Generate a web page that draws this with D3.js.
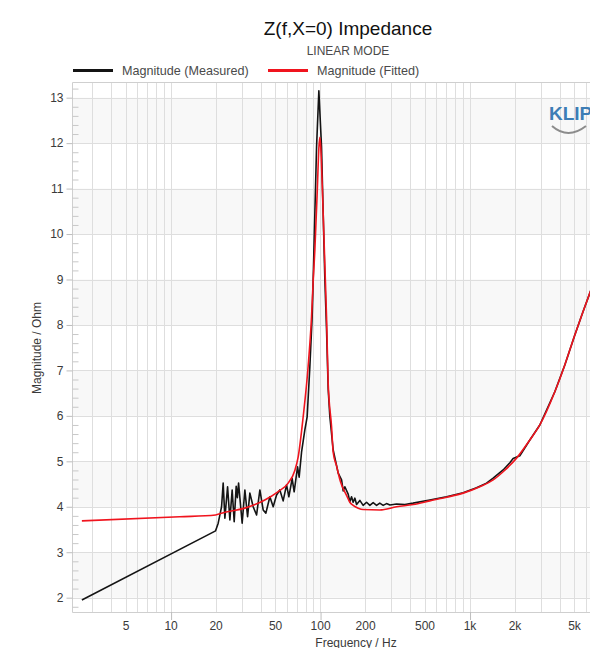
<!DOCTYPE html>
<html>
<head>
<meta charset="utf-8">
<script src="https://cdn.jsdelivr.net/npm/d3@7"></script>
<style>
  body { margin: 0; background: #fff; overflow: hidden; }
  svg { display: block; font-family: 'Liberation Sans', Arial, sans-serif; }
</style>
</head>
<body>
<svg id="chart"></svg>
<script>
// impedance curve
const measuredFreq = [2.55, 20, 20.82, 21.37, 21.93, 22.48, 23.08, 24.06, 24.93, 25.82, 26.64, 27.47, 27.98, 28.5, 30.12, 31.4, 32.74, 33.92, 35.69, 37.61, 39.57, 41.63, 43.4, 46.16, 48.57, 51.17, 53.83, 56.64, 59.68, 61.83, 65.06, 67.1, 70.7, 72.46, 75.19, 79.11, 81.97, 85.45, 88.54, 89.92, 92.31, 94.76, 98.17, 102.3, 104.9, 107.7, 110.5, 113.3, 116.3, 122.4, 132.2, 139.3, 142.8, 146.5, 154.2, 158.2, 162.4, 166.5, 171, 175.5, 184.6, 194.2, 204.7, 215.3, 226.6, 238.8, 251, 264.3, 278.5, 293.1, 325, 369.2, 419.5, 542.5, 702, 906, 1114, 1299, 1439, 1678, 1861, 1957, 2170, 2532, 2953, 3721, 4340, 5063, 5727, 6378, 7439]
const measuredMag = [1.95, 3.47, 3.64, 3.82, 4.0, 4.52, 3.75, 4.44, 3.71, 4.37, 3.67, 4.45, 4.2, 4.52, 3.64, 4.37, 3.78, 4.3, 4.0, 3.82, 4.37, 3.93, 3.86, 4.22, 4.0, 4.26, 4.37, 4.13, 4.48, 4.22, 4.62, 4.33, 4.88, 4.65, 5.2, 5.69, 5.98, 7.08, 8.18, 8.99, 10.46, 11.92, 13.15, 11.92, 10.46, 8.99, 7.9, 6.6, 5.98, 5.25, 4.74, 4.59, 4.35, 4.44, 4.28, 4.11, 4.22, 4.1, 4.19, 4.05, 4.14, 4.03, 4.1, 4.03, 4.09, 4.03, 4.08, 4.03, 4.07, 4.04, 4.06, 4.05, 4.08, 4.15, 4.22, 4.31, 4.42, 4.52, 4.63, 4.81, 4.97, 5.06, 5.12, 5.47, 5.8, 6.53, 7.12, 7.78, 8.28, 8.7, 9.3]

const fittedFreq = [2.55, 11.5, 20, 23.1, 31.4, 42.7, 52.2, 61.2, 67.8, 71.4, 77.1, 83.2, 87.7, 89.9, 92.3, 95.9, 98.2, 99.7, 101.1, 103.6, 107.7, 110.5, 113.3, 119.4, 122.4, 128.9, 137, 150.4, 158.2, 166.5, 180, 194.2, 251, 325, 420, 542, 702, 906, 1172, 1439, 1678, 2063, 2532, 2953, 3721, 4340, 5063, 5727, 6378, 7439]
const fittedMag = [3.69, 3.78, 3.82, 3.88, 3.97, 4.15, 4.33, 4.52, 4.8, 5.1, 5.98, 7.08, 8.18, 8.95, 9.65, 11.0, 11.9, 12.13, 11.9, 11.0, 9.3, 8.18, 6.72, 5.76, 5.2, 4.9, 4.55, 4.25, 4.1, 4.03, 3.97, 3.94, 3.93, 4.0, 4.05, 4.13, 4.21, 4.3, 4.44, 4.59, 4.77, 5.07, 5.47, 5.8, 6.53, 7.12, 7.78, 8.28, 8.7, 9.3]

const xLabelTicks = [5, 10, 20, 50, 100, 200, 500, 1000, 2000, 5000]
const xDecades = [10, 100, 1000, 10000]
const yTicks = [2, 3, 4, 5, 6, 7, 8, 9, 10, 11, 12, 13]

const width = 590
const height = 648
const plot = { left: 72, right: 664, top: 82, bottom: 612 }

const x = d3.scaleLog().domain([2.19, 20000]).range([plot.left, plot.right])
const y = d3.scaleLinear().domain([1.685, 13.345]).range([plot.bottom, plot.top])

const svg = d3.select('#chart')
  .attr('width', width)
  .attr('height', height)

svg.append('defs').append('clipPath')
  .attr('id', 'plot-clip')
  .append('rect')
  .attr('x', plot.left)
  .attr('y', plot.top)
  .attr('width', plot.right - plot.left)
  .attr('height', plot.bottom - plot.top)

// alternating bands
svg.append('g')
  .selectAll('rect')
  .data(yTicks.filter(v => v % 2 === 0))
  .enter().append('rect')
  .attr('x', plot.left)
  .attr('width', plot.right - plot.left)
  .attr('y', v => y(v + 1))
  .attr('height', v => y(v) - y(v + 1))
  .attr('fill', '#f8f8f8')

// grid
const xGrid = []
xDecades.concat([1]).forEach(d => d3.range(1, 10).forEach(m => {
  const f = m * d
  if (f > x.domain()[0] && f <= x.domain()[1]) xGrid.push(f)
}))

const grid = svg.append('g').attr('stroke', '#dedede').attr('stroke-width', 1)
grid.selectAll('.gx')
  .data(xGrid)
  .enter().append('line')
  .attr('x1', f => Math.round(x(f)) + 0.5)
  .attr('x2', f => Math.round(x(f)) + 0.5)
  .attr('y1', plot.top)
  .attr('y2', plot.bottom)
grid.selectAll('.gy')
  .data(yTicks)
  .enter().append('line')
  .attr('x1', plot.left)
  .attr('x2', plot.right)
  .attr('y1', v => Math.round(y(v)) + 0.5)
  .attr('y2', v => Math.round(y(v)) + 0.5)

// border
svg.append('path')
  .attr('d', `M${plot.right},${plot.top + 0.5}H${plot.left + 0.5}V${plot.bottom + 0.5}H${plot.right}`)
  .attr('fill', 'none')
  .attr('stroke', '#cfcfcf')

// y axis
const yMinor = d3.range(1.8, 13.3, 0.2).map(v => +v.toFixed(1)).filter(v => Math.abs(v - Math.round(v)) > 0.01)
const yAxis = svg.append('g')
  .attr('transform', `translate(${plot.left + 0.5},0)`)
  .call(d3.axisLeft(y).tickValues(yTicks).tickSize(6).tickPadding(3).tickFormat(d3.format('d')))
svg.append('g')
  .attr('transform', `translate(${plot.left + 0.5},0)`)
  .call(d3.axisLeft(y).tickValues(yMinor).tickSize(-6).tickFormat(''))
  .call(g => g.select('.domain').remove())
  .selectAll('line').attr('stroke', '#c8c8c8')
yAxis.select('.domain').remove()
yAxis.selectAll('line').attr('stroke', '#bdbdbd')
yAxis.selectAll('text')
  .attr('fill', '#3a3a3a')
  .attr('font-size', 12)
  .attr('font-family', 'Liberation Sans, Arial, sans-serif')

// x axis
const fmtHz = f => f >= 1000 ? `${f / 1000}k` : `${f}`
const xAxis = svg.append('g')
  .attr('transform', `translate(0,${plot.bottom})`)
  .call(d3.axisBottom(x).tickValues(xLabelTicks).tickSize(0).tickPadding(9).tickFormat(fmtHz))
xAxis.select('.domain').remove()
xAxis.selectAll('text')
  .attr('fill', '#3a3a3a')
  .attr('font-size', 12)
  .attr('font-family', 'Liberation Sans, Arial, sans-serif')
svg.append('g')
  .attr('transform', `translate(0.5,${plot.bottom})`)
  .call(d3.axisBottom(x).tickValues(xDecades).tickSize(8).tickFormat(''))
  .call(g => g.select('.domain').remove())
  .selectAll('line').attr('stroke', '#bdbdbd')

// curves
const lines = svg.append('g').attr('clip-path', 'url(#plot-clip)')
const measured = measuredFreq.map((f, i) => [f, measuredMag[i]])
const fitted = fittedFreq.map((f, i) => [f, fittedMag[i]])

lines.append('path')
  .datum(measured)
  .attr('d', d3.line().x(d => x(d[0])).y(d => y(d[1])))
  .attr('fill', 'none')
  .attr('stroke', '#141414')
  .attr('stroke-width', 1.6)
  .attr('stroke-linejoin', 'round')

lines.append('path')
  .datum(fitted)
  .attr('d', d3.line().curve(d3.curveMonotoneX).x(d => x(d[0])).y(d => y(d[1])))
  .attr('fill', 'none')
  .attr('stroke', '#f0141e')
  .attr('stroke-width', 1.6)
  .attr('stroke-linejoin', 'round')

// logo
const logo = svg.append('g')
logo.append('text')
  .attr('x', 549)
  .attr('y', 120)
  .attr('font-size', 19)
  .attr('font-weight', 'bold')
  .attr('fill', '#3d7db5')
  .text('KLIPPEL')
logo.append('path')
  .attr('d', 'M552,126 Q568,140 586,126')
  .attr('fill', 'none')
  .attr('stroke', '#8c8c8c')
  .attr('stroke-width', 2)

// titles
svg.append('text')
  .attr('x', 348)
  .attr('y', 35)
  .attr('text-anchor', 'middle')
  .attr('font-size', 19)
  .attr('fill', '#111')
  .text('Z(f,X=0) Impedance')
svg.append('text')
  .attr('x', 348)
  .attr('y', 55)
  .attr('text-anchor', 'middle')
  .attr('font-size', 12)
  .attr('fill', '#4a4a4a')
  .text('LINEAR MODE')

const legend = svg.append('g')
const legendItems = [
  { label: 'Magnitude (Measured)', color: '#141414', x: 73 },
  { label: 'Magnitude (Fitted)', color: '#f0141e', x: 268 },
]
legendItems.forEach(({ label, color, x: lx }) => {
  legend.append('line')
    .attr('x1', lx).attr('x2', lx + 40)
    .attr('y1', 70.5).attr('y2', 70.5)
    .attr('stroke', color)
    .attr('stroke-width', 3)
  legend.append('text')
    .attr('x', lx + 49)
    .attr('y', 74.5)
    .attr('font-size', 12.6)
    .attr('fill', '#4a4a4a')
    .text(label)
})

svg.append('text')
  .attr('transform', 'translate(41,348) rotate(-90)')
  .attr('text-anchor', 'middle')
  .attr('font-size', 12)
  .attr('fill', '#3a3a3a')
  .text('Magnitude / Ohm')

svg.append('text')
  .attr('x', 356)
  .attr('y', 647)
  .attr('text-anchor', 'middle')
  .attr('font-size', 12)
  .attr('fill', '#3a3a3a')
  .text('Frequency / Hz')
</script>
</body>
</html>
